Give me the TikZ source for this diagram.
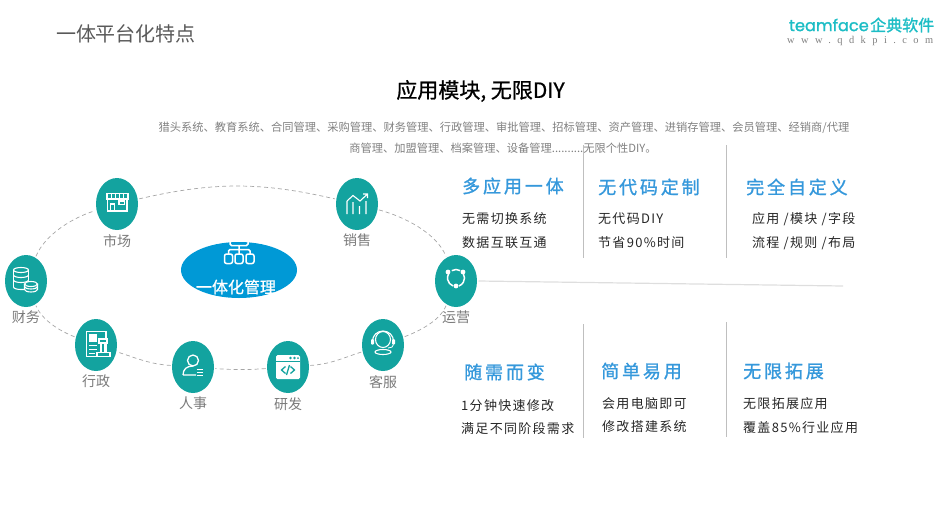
\documentclass[tikz,border=0pt]{standalone}
\usepackage{fontspec}
\setmainfont{Noto Sans CJK SC}
\newfontfamily\titlefont[FakeBold=0.8]{Noto Sans CJK SC}
\newfontfamily\headfont[LetterSpace=16,FakeBold=1.2]{Noto Sans CJK SC}
\newfontfamily\bodyfont[LetterSpace=10]{Noto Sans CJK SC}
\newfontfamily\logofont[FakeBold=1.5]{Poppins}
\newfontfamily\logocnfont[FakeBold=1.5]{Noto Sans CJK SC}
\newfontfamily\urlfont[LetterSpace=62]{Liberation Serif}
\usetikzlibrary{positioning,shapes.geometric}
\definecolor{tealfill}{HTML}{13A39F}
\definecolor{bluefill}{HTML}{0099D6}
\definecolor{headblue}{HTML}{3598DB}
\definecolor{logoteal}{HTML}{1DBDC5}
\begin{document}
\begin{tikzpicture}[x=1pt,y=-1pt,
		circ/.style={ellipse,fill=tealfill,inner sep=0pt,outer sep=1.5pt,minimum width=42pt,minimum height=52pt},
		caption/.style={text=black!52,font=\fontsize{14}{16}\selectfont,inner sep=0pt,node distance=2.5pt},
		head/.style={text=headblue,font=\headfont\fontsize{18}{20}\selectfont,inner sep=0pt},
		body/.style={text=black!85,font=\bodyfont\fontsize{13}{15}\selectfont,inner sep=0pt,anchor=west},
		note/.style={text=black!50,font=\fontsize{11.25}{14}\selectfont,inner sep=0pt},
		ring/.style={dash pattern=on 4pt off 3pt,black!35,line width=0.7pt},
		rule/.style={black!25,line width=0.8pt},
		icon/.style={white,line width=1.1pt}]
		\useasboundingbox (0,0) rectangle (951,504);
		% titles
		\node[text=black!65,font=\fontsize{20}{24}\selectfont,inner sep=0pt] (title) at (126,34) {一体平台化特点};
		\node[font=\titlefont\fontsize{21}{24}\selectfont,inner sep=0pt] (subtitle) at (480.5,91) {应用模块, 无限DIY};
		\node[note] (note1) at (504,127.5) {猎头系统、教育系统、合同管理、采购管理、财务管理、行政管理、审批管理、招标管理、资产管理、进销存管理、会员管理、经销商/代理};
		\node[note] (note2) at (503,148.5) {商管理、加盟管理、档案管理、设备管理..........无限个性DIY。};
		% logo
		\node[text=logoteal,font=\logofont\fontsize{16.2}{20}\selectfont,inner sep=0pt,anchor=east] (logoen) at (869,25) {teamface};
		\node[text=logoteal,font=\logocnfont\fontsize{16}{20}\selectfont,inner sep=0pt,anchor=west] (logocn) at (870,25) {企典软件};
		\node[text=black!50,font=\urlfont\fontsize{10.4}{12}\selectfont,inner sep=0pt,anchor=west] (logourl) at (787,40.5) {www.qdkpi.com};

		% ring of modules
		\node[circ] (market)	at (117,204) {};
		\node[circ] (sales)		at (357,204) {};
		\node[circ] (finance)	at (26,281) {};
		\node[circ] (operate)	at (456,281) {};
		\node[circ] (admin)		at (96,345) {};
		\node[circ] (hr)		at (193,367) {};
		\node[circ] (dev)		at (288,367) {};
		\node[circ] (service)	at (383,345) {};
		\node[caption,below=of market]	(marketcap)		{市场};
		\node[caption,below=of sales]	(salescap)		{销售};
		\node[caption,below=of finance]	(financecap)	{财务};
		\node[caption,below=of operate]	(operatecap)	{运营};
		\node[caption,below=of admin]	(admincap)		{行政};
		\node[caption,below=of hr]		(hrcap)			{人事};
		\node[caption,below=of dev]		(devcap)		{研发};
		\node[caption,below=of service]	(servicecap)	{客服};

		\draw[ring] (finance) to[out=68,in=197,looseness=0.8] (market);
		\draw[ring] (market) to[out=13,in=167] (sales);
		\draw[ring] (sales) to[out=-15,in=112,looseness=0.8] (operate);
		\draw[ring] (operate) to[out=-112,in=21,looseness=0.8] (service);
		\draw[ring] (service) to[out=198,in=4] (dev);
		\draw[ring] (dev) to[out=184,in=-4] (hr);
		\draw[ring] (hr) to[out=176,in=-18] (admin);
		\draw[ring] (admin) to[out=159,in=-68,looseness=0.8] (finance);

		% centre
		\node[ellipse,fill=bluefill,inner sep=0pt,minimum width=116pt,minimum height=56pt] (core) at (239,270) {};
		\node[text=white,font=\titlefont\fontsize{16}{18}\selectfont,inner sep=0pt] (corelabel) at (236,287) {一体化管理};
		\draw[icon,line width=1.5pt,rounded corners=1.5pt] (230,240) rectangle (248,245.5) (239,245.5) -- (239,254) (228.5,254) -- (228.5,249.5) -- (250,249.5) -- (250,254);
		\draw[icon,line width=1.5pt,rounded corners=2pt] (224.5,254) rectangle (232.5,263.5) (235,254) rectangle (243,263.5) (246,254) rectangle (254,263.5);

		% icons
		\draw[icon] (107.5,199) -- (107.5,211) -- (127,211) -- (127,199) (110.5,211) -- (110.5,204) -- (114.5,204) -- (114.5,211) (119,201) rectangle (124.5,204.5);
		\draw[icon,line width=1.3pt] (107,193.5) rectangle (128,199);
		\foreach \x in {111,115,119,123} \draw[icon,line width=0.9pt] (\x,193.5) -- (\x,199);
		\draw[icon] (347,214) -- (347,201) (353,214) -- (353,202) (359.5,214) -- (359.5,206) (366,214) -- (366,201) (347,201) -- (353,195.5) -- (360,201) -- (367.5,194) (363,194) -- (367.5,194) -- (367.5,198);
		\draw[icon] (21,270) ellipse (7.5 and 2.5);
		\draw[icon] (13.5,270) -- (13.5,287) (28.5,270) -- (28.5,280);
		\foreach \y in {275,280} \draw[icon] (13.5,\y) arc (180:0:7.5 and 2.5);
		\draw[icon] (13.5,287) arc (180:90:7.5 and 2.5) -- (24,289.5);
		\draw[icon,fill=tealfill] (31,284) ellipse (6.5 and 2.5);
		\draw[icon] (24.5,284) -- (24.5,289.5) arc (180:0:6.5 and 2.5) -- (37.5,284) (24.5,286.5) arc (180:0:6.5 and 2.5);
		\draw[icon] (86.5,331.5) rectangle (106,356.5);
		\fill[white] (89,333.5) rectangle (97,342);
		\draw[icon,line width=0.9pt] (89,345.5) -- (97,345.5) (89,349.5) -- (97,349.5) (89,353) -- (95,353);
		\draw[icon,fill=tealfill] (99,339) rectangle (107,343);
		\draw[icon,fill=tealfill] (101,343) rectangle (105,352.5);
		\draw[icon,fill=tealfill] (97,352.5) rectangle (110,356.5);
		\draw[icon,line width=1.3pt] (193,360.5) circle (5.5);
		\draw[icon,line width=1.3pt] (183,375) .. controls (183,369) and (187,366) .. (193,366) (183,375) -- (196,375);
		\draw[icon,line width=1.3pt] (197,369.5) -- (203,369.5) (197,372.5) -- (203,372.5) (197,375.5) -- (203,375.5);
		\fill[white,rounded corners=1.5pt] (276,355) rectangle (300,379);
		\fill[tealfill] (290.5,358) circle (1.3) (294.5,358) circle (1.3) (298,358) circle (1);
		\draw[tealfill,line width=0.6pt] (276,361) -- (300,361);
		\draw[tealfill,line width=1.3pt] (285.5,366.5) -- (281.5,370) -- (285.5,373.5) (290.5,366.5) -- (294.5,370) -- (290.5,373.5) (289.5,365) -- (286.5,375);
		\draw[icon] (383,339.5) circle (7.5 and 8);
		\draw[icon] (372.5,341) arc (180:360:10.5 and 10);
		\fill[white,rounded corners=1pt] (371,339) rectangle (374,344.5) (392,339) rectangle (395,344.5);
		\draw[icon,line width=0.8pt] (393.5,344.5) .. controls (393.5,347) and (391,348) .. (388,348);
		\draw[icon] (383,352) ellipse (8 and 2.5);
		\draw[icon,line width=1.5pt] (456,278) ++(-120:8.5) arc (-120:-60:8.5) (456,278) ++(-30:8.5) arc (-30:70:8.5) (456,278) ++(110:8.5) arc (110:210:8.5);
		\fill[white] (448,272) circle (2.4) (463,272) circle (2.4) (456,286) circle (2.4);

		\coordinate (tail) at (843,286);
		\draw[black!13,line width=1.2pt] (operate.east) -- (tail);

		% dividers
		\coordinate (a1) at (583.5,145); \coordinate (a2) at (583.5,258);
		\coordinate (b1) at (726.5,145); \coordinate (b2) at (726.5,258);
		\coordinate (c1) at (583.5,324); \coordinate (c2) at (583.5,438);
		\coordinate (d1) at (726.5,322); \coordinate (d2) at (726.5,437);
		\draw[rule] (a1) -- (a2);
		\draw[rule] (b1) -- (b2);
		\draw[rule] (c1) -- (c2);
		\draw[rule] (d1) -- (d2);

		% feature columns
		\node[head,anchor=west] (h1) at (462,186) {多应用一体};
		\node[body] (h1a) at (462,218.5) {无需切换系统};
		\node[body] (h1b) at (462,242.5) {数据互联互通};
		\node[head,anchor=west] (h2) at (598,187) {无代码定制};
		\node[body] (h2a) at (598,218.5) {无代码DIY};
		\node[body] (h2b) at (598,242.5) {节省90\%时间};
		\node[head,anchor=west] (h3) at (746,187) {完全自定义};
		\node[body] (h3a) at (752,219.5) {应用 /模块 /字段};
		\node[body] (h3b) at (752,243.5) {流程 /规则 /布局};
		\node[head,anchor=west] (h4) at (464,372) {随需而变};
		\node[body] (h4a) at (461,406) {1分钟快速修改};
		\node[body] (h4b) at (461,429) {满足不同阶段需求};
		\node[head,anchor=west] (h5) at (601,371) {简单易用};
		\node[body] (h5a) at (602,404) {会用电脑即可};
		\node[body] (h5b) at (602,427) {修改搭建系统};
		\node[head,anchor=west] (h6) at (743,371) {无限拓展};
		\node[body] (h6a) at (743,404) {无限拓展应用};
		\node[body] (h6b) at (743,428) {覆盖85\%行业应用};
	\end{tikzpicture}
\end{document}
